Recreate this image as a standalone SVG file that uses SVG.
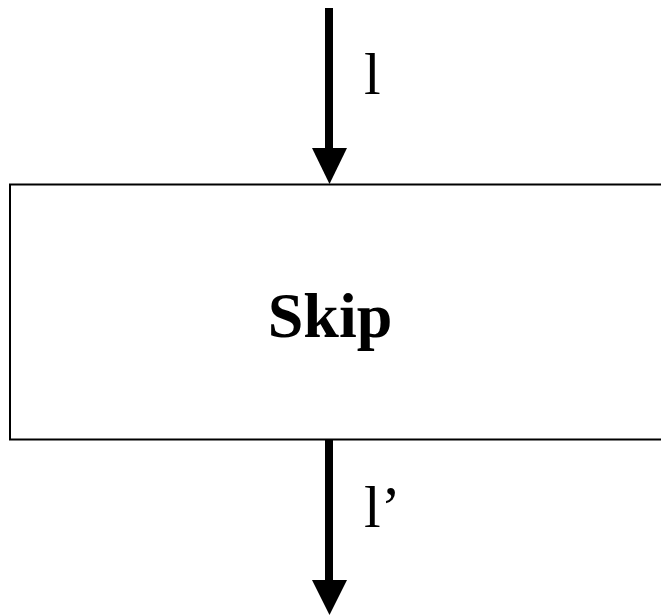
<svg xmlns="http://www.w3.org/2000/svg" width="661" height="615" viewBox="0 0 661 615">
<style>
.shaft{stroke:#000;stroke-width:8;fill:none}
.head{fill:#000}
.lbl{font-family:"Liberation Serif","Times New Roman",serif;font-size:60px;fill:#000}
.title{font-family:"Liberation Serif","Times New Roman",serif;font-size:64px;font-weight:bold;fill:#000}
</style>
<rect width="661" height="615" fill="#fff"/>
<g id="skip">
<rect x="10" y="184.5" width="660" height="255" fill="#fff" stroke="#000" stroke-width="2"/>
<text class="title" x="330" y="337" text-anchor="middle">Skip</text>
</g>
<g id="connectors">
<g id="in">
<line class="shaft" x1="329" y1="8" x2="329" y2="150"/>
<polygon class="head" points="312,148 347,148 329.5,184"/>
<text class="lbl" x="364" y="94">l</text>
</g>
<g id="out">
<line class="shaft" x1="329" y1="440" x2="329" y2="582"/>
<polygon class="head" points="312,580 347,580 329.5,615"/>
<text class="lbl" x="364" y="527">l’</text>
</g>
</g>
</svg>
